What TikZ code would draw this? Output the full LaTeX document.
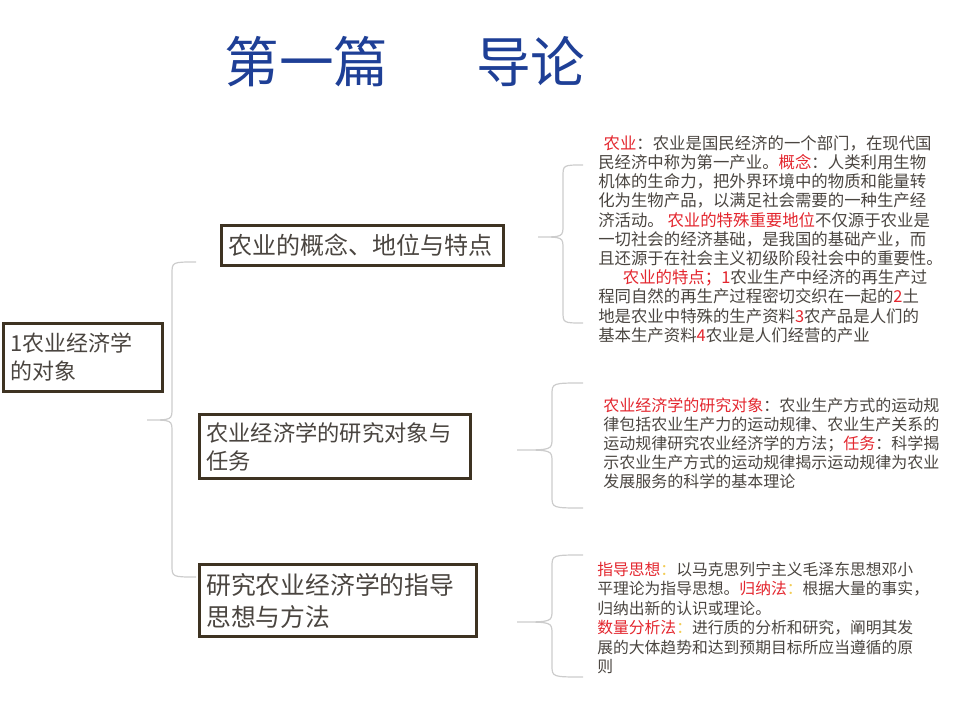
\documentclass[tikz,border=0pt]{standalone}
\usepackage{fontspec}
\setmainfont{Noto Sans CJK SC}
\definecolor{titleblue}{HTML}{1E3F96}
\definecolor{boxbrown}{HTML}{3E3322}
\definecolor{inkgray}{HTML}{4A4540}
\definecolor{keyred}{HTML}{E3262E}
\definecolor{colonyellow}{HTML}{F2CC55}
\definecolor{curlgray}{HTML}{CCCCCC}
\begin{document}
\begin{tikzpicture}[
    x=0.75pt, y=-0.75pt,
    every node/.style={inner sep=0pt},
    topic/.style={draw=boxbrown, line width=2.25pt, text=inkgray,
    anchor=west, inner xsep=5.5pt, align=left},
    note/.style={text=inkgray, anchor=west, align=left},
    curl/.style={draw=curlgray, line width=0.9pt}]
    \def\hl#1{\textcolor{keyred}{#1}}
    \def\cl{\textcolor{colonyellow}{：}}
    \def\curly#1#2#3#4#5#6{\draw[curl] (#1,#4) .. controls (#2,#4) .. (#2,#4+12)
        -- (#2,#5-12) .. controls (#2,#5) .. (#3,#5) .. controls (#2,#5) .. (#2,#5+12)
        -- (#2,#6-12) .. controls (#2,#6) .. (#1,#6);}

    \useasboundingbox (0,0) rectangle (960,720);
    \node[text=titleblue, font=\fontsize{41}{41}\selectfont] (title) at (405,62)
        {第一篇\hspace{1.6em}导论};

    \node[topic, text width=108.25pt, minimum height=51pt,
        font=\fontsize{16.5}{21}\selectfont] (root) at (1.5,357.5)
        {1农业经济学\\的对象};
    \node[topic, text width=200.5pt, minimum height=30pt,
        font=\fontsize{18}{21}\selectfont] (concept) at (219.5,245.5)
        {农业的概念、地位与特点};
    \node[topic, text width=192.25pt, minimum height=48pt,
        font=\fontsize{16.7}{21}\selectfont] (object) at (197.5,446.5)
        {农业经济学的研究对象与\\任务};
    \node[topic, text width=196.75pt, minimum height=54pt,
        font=\fontsize{18.6}{24}\selectfont] (method) at (197.5,600.5)
        {研究农业经济学的指导\\思想与方法};

    \node[note, font=\fontsize{12.3}{14.4}\selectfont] (note1) at (598,239)
        {\hspace*{4pt}\hl{农业}：农业是国民经济的一个部门，在现代国\\
        民经济中称为第一产业。\hl{概念}：人类利用生物\\
        机体的生命力，把外界环境中的物质和能量转\\
        化为生物产品，以满足社会需要的一种生产经\\
        济活动。 \hl{农业的特殊重要地位}不仅源于农业是\\
        一切社会的经济基础，是我国的基础产业，而\\
        且还源于在社会主义初级阶段社会中的重要性。\\
        \hspace*{1.5em}\hl{农业的特点；1}农业生产中经济的再生产过\\
        程同自然的再生产过程密切交织在一起的\hl{2}土\\
        地是农业中特殊的生产资料\hl{3}农产品是人们的\\
        基本生产资料\hl{4}农业是人们经营的产业};
    \node[note, font=\fontsize{12}{14.25}\selectfont] (note2) at (603,443)
        {\hl{农业经济学的研究对象}：农业生产方式的运动规\\
        律包括农业生产力的运动规律、农业生产关系的\\
        运动规律研究农业经济学的方法；\hl{任务}：科学揭\\
        示农业生产方式的运动规律揭示运动规律为农业\\
        发展服务的科学的基本理论};
    \node[note, font=\fontsize{11.85}{14.6}\selectfont] (note3) at (597,618)
        {\hl{指导思想}\cl 以马克思列宁主义毛泽东思想邓小\\
        平理论为指导思想。\hl{归纳法}\cl 根据大量的事实，\\
        归纳出新的认识或理论。\\
        \hl{数量分析法}\cl 进行质的分析和研究，阐明其发\\
        展的大体趋势和达到预期目标所应当遵循的原\\
        则};

    \curly{196}{172}{147}{262}{420}{577}
    \curly{583}{563}{538}{165}{237}{323}
    \curly{583}{552}{517}{383}{450}{508}
    \curly{583}{552}{517}{555}{622}{677}
\end{tikzpicture}
\end{document}
